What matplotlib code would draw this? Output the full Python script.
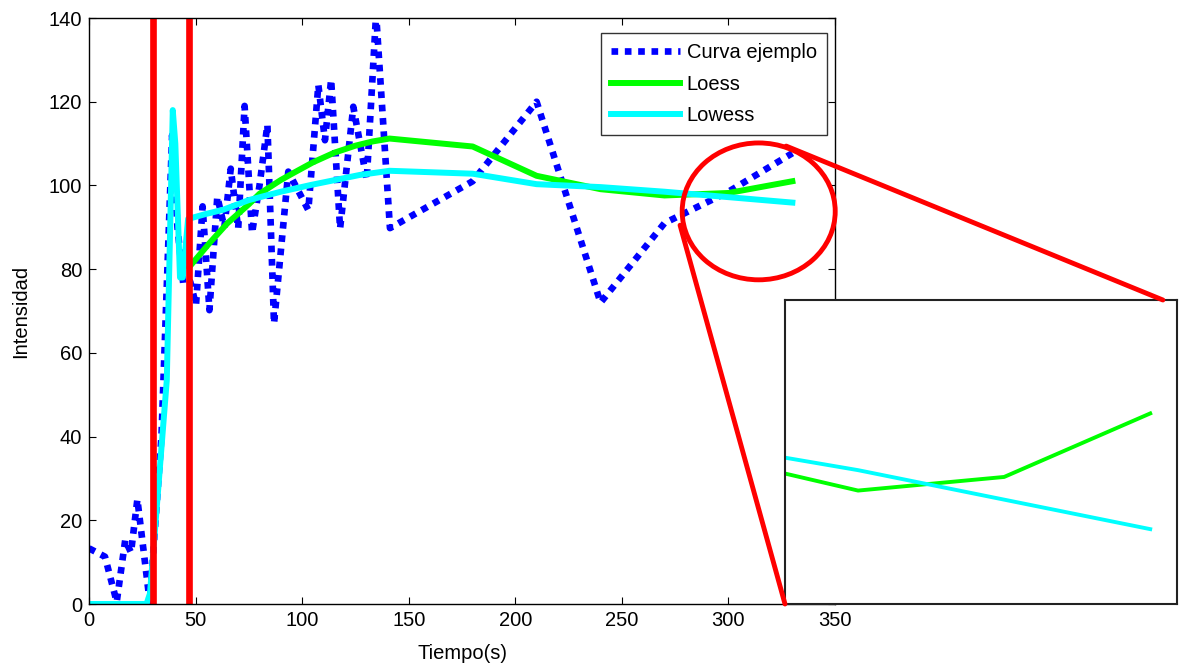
import numpy as np
import matplotlib.pyplot as plt
from matplotlib.patches import Ellipse, ConnectionPatch

plt.rcParams['font.family'] = ['Liberation Sans', 'DejaVu Sans']

# Curva ejemplo (datos originales)
t_curva = [0, 7.5, 13, 17, 19.7, 22.7, 28.5, 34, 39, 41.5, 44.2, 47.5, 50.2, 53.3, 56.5,
           60.2, 63.5, 66.5, 70, 73, 76.5, 80, 83.7, 86.8, 93.5, 102.9, 107.6, 110.7,
           113.6, 117.8, 124, 130.3, 134.7, 141.2, 180, 210, 240, 270, 300, 330]
y_curva = [13.3, 11.3, 0.5, 15.3, 12.3, 25, 0.5, 40, 112, 90, 76.6, 77, 71.4, 95, 70.2,
           97.3, 90, 104, 89.7, 119, 88.6, 100, 114.5, 67, 103.3, 94.1, 124, 110.8,
           125.3, 89.7, 118.8, 101.3, 141, 89.8, 101, 120, 72, 91, 98.5, 107.7]

# Loess
t_loess = [47, 52, 57, 65, 75, 80, 90, 96, 105, 115, 125, 133, 141, 180, 210, 240, 270, 300, 330]
y_loess = [80.5, 83.5, 86.5, 91, 95.5, 98, 101.3, 103, 105.5, 107.8, 109.5, 110.5, 111.2,
           109.3, 102.3, 99.1, 97.6, 98.2, 101.0]

# Lowess
t_lowess = [0, 27, 28.6, 36.5, 39.3, 40.5, 42.7, 44, 46.5, 55, 63, 75, 90, 104, 127, 141,
            180, 210, 240, 270, 300, 330]
y_lowess = [0, 0, 2.5, 53.5, 118, 110, 78, 78, 92, 93.2, 94.2, 96.5, 98.5, 100.1, 102.5,
            103.5, 102.8, 100.3, 99.6, 98.5, 97.2, 95.9]

x_rojas = [29.9, 46.9]          # limites verticales
zoom_x = [255, 335.5]           # rango del zoom
zoom_y = [92.6, 106.0]

fs = 14.5

fig = plt.figure(figsize=(11.82, 6.66), dpi=100)
ax = fig.add_axes([89/1182, 62/666, 746/1182, 586/666])

ax.plot(t_curva, y_curva, color='#0000ff', lw=4.8, ls=(0, (1, 1)), label='Curva ejemplo')
ax.plot(t_loess, y_loess, color='#00ff00', lw=4.3, label='Loess')
ax.plot(t_lowess, y_lowess, color='#00ffff', lw=4.3, label='Lowess')
for xr in x_rojas:
    ax.axvline(xr, color='#ff0000', lw=4.8)

ax.set_xlim(0, 350)
ax.set_ylim(0, 140)
ax.set_xticks(np.arange(0, 351, 50))
ax.set_yticks(np.arange(0, 141, 20))
ax.tick_params(direction='in', top=True, right=True, length=5, labelsize=fs, pad=5)
for s in ax.spines.values():
    s.set_linewidth(1)
ax.set_xlabel('Tiempo(s)', fontsize=fs, labelpad=10)
ax.set_ylabel('Intensidad', fontsize=fs, labelpad=13)

leg = ax.legend(loc='upper right', bbox_to_anchor=(0.989, 0.974), borderaxespad=0,
                fancybox=False, fontsize=fs, handlelength=3.4, handletextpad=0.35,
                labelspacing=0.62, borderpad=0.5)
leg.get_frame().set_edgecolor('k')
leg.get_frame().set_linewidth(1)

# circulo de la zona ampliada
elip = Ellipse((314.2, 93.8), 71.8, 32.7, fill=False, edgecolor='#ff0000', lw=3.5, clip_on=False, zorder=5)
ax.add_patch(elip)

# zoom
ax2 = fig.add_axes([785/1182, 62/666, 392/1182, 304/666])
ax2.plot(t_loess, y_loess, color='#00ff00', lw=2.8)
ax2.plot(t_lowess, y_lowess, color='#00ffff', lw=2.8)
ax2.set_xlim(zoom_x)
ax2.set_ylim(zoom_y)
ax2.set_xticks([])
ax2.set_yticks([])
for s in ax2.spines.values():
    s.set_linewidth(1.5)
    s.set_color('#222222')

con1 = ConnectionPatch(xyA=(327.1, 109.4), coordsA=ax.transData, xyB=(0.964, 1.0),
                       coordsB=ax2.transAxes, color='#ff0000', lw=3.5, zorder=10)
con2 = ConnectionPatch(xyA=(277.3, 90.5), coordsA=ax.transData, xyB=(0.0, 0.0),
                       coordsB=ax2.transAxes, color='#ff0000', lw=3.5, zorder=10)
fig.add_artist(con1)
fig.add_artist(con2)

plt.savefig('out.png', dpi=100)
